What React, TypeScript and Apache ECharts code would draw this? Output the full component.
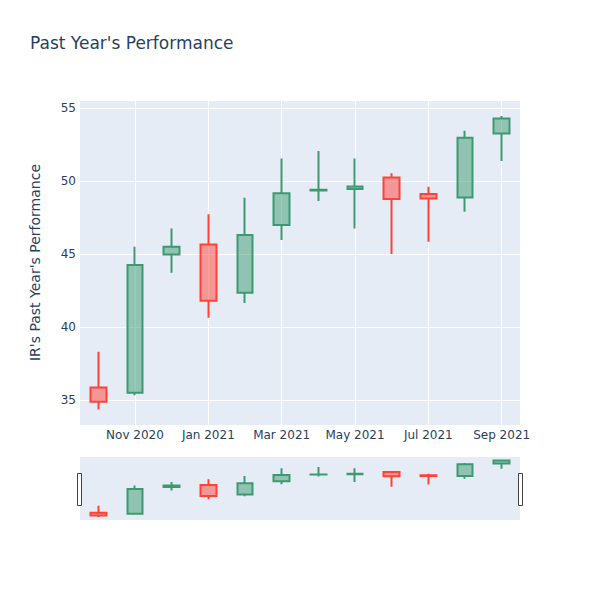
import React, { useEffect, useRef } from 'react';
import * as echarts from 'echarts';

const months = ['Oct 2020', 'Nov 2020', 'Dec 2020', 'Jan 2021', 'Feb 2021', 'Mar 2021', 'Apr 2021', 'May 2021', 'Jun 2021', 'Jul 2021', 'Aug 2021', 'Sep 2021'];
const opens = [35.87, 35.5, 44.97, 45.66, 42.35, 46.99, 49.35, 49.45, 50.25, 49.11, 48.88, 53.26];
const closes = [34.89, 44.25, 45.5, 41.8, 46.3, 49.16, 49.4, 49.62, 48.77, 48.81, 52.97, 54.29];
const lows = [34.36, 35.34, 43.72, 40.64, 41.66, 45.96, 48.63, 46.76, 45.0, 45.84, 47.9, 51.37];
const highs = [38.31, 45.5, 46.76, 47.72, 48.86, 51.55, 52.05, 51.55, 50.53, 49.61, 53.45, 54.45];
const yMin = 33.3;
const yMax = 55.55;

const TXT = '#2a3f5f';
const BG = '#E5ECF6';
const FONT = '"DejaVu Sans", verdana, arial, sans-serif';

const candleData = months.map((_, i) => [opens[i], closes[i], lows[i], highs[i]]);
// helper axis: 2 slots per month + 1, so month i sits at slot 2i+1
const slots = Array.from({ length: months.length * 2 + 1 }, (_, k) => 's' + k);

const candleStyle = {
  color: 'rgba(61,153,112,0.5)',
  color0: 'rgba(255,65,54,0.5)',
  borderColor: '#3D9970',
  borderColor0: '#FF4136',
  borderWidth: 2,
};

export default function App() {
  const ref = useRef<HTMLDivElement>(null);
  useEffect(() => {
    if (!ref.current) return;
    const chart = echarts.init(ref.current, null, { renderer: 'svg' });
    chart.setOption({
      animation: false,
      backgroundColor: '#fff',
      title: {
        text: "Past Year's Performance",
        left: 30,
        top: 34,
        padding: 0,
        textStyle: { color: TXT, fontSize: 17, fontWeight: 'normal', fontFamily: FONT },
      },
      grid: [
        { left: 80, top: 100, width: 440, height: 325, show: true, backgroundColor: BG, borderWidth: 0 },
        { left: 80, top: 457, width: 440, height: 63, show: true, backgroundColor: BG, borderWidth: 0 },
      ],
      xAxis: [
        {
          type: 'category',
          gridIndex: 0,
          data: months,
          boundaryGap: true,
          axisLine: { show: false },
          axisTick: { show: false },
          splitLine: { show: false },
          axisLabel: {
            interval: (idx: number) => idx % 2 === 1,
            color: TXT,
            fontSize: 12,
            fontFamily: FONT,
            margin: 4,
          },
        },
        {
          type: 'category',
          gridIndex: 0,
          data: slots,
          boundaryGap: false,
          position: 'bottom',
          axisLine: { show: false },
          axisTick: { show: false },
          axisLabel: { show: false },
          splitLine: {
            show: true,
            interval: (idx: number) => idx % 4 === 3,
            lineStyle: { color: '#fff', width: 1 },
          },
        },
        {
          type: 'category',
          gridIndex: 1,
          data: months,
          boundaryGap: true,
          show: false,
        },
      ],
      yAxis: [
        {
          type: 'value',
          gridIndex: 0,
          min: yMin,
          max: yMax,
          name: "IR's Past Year's Performance",
          nameLocation: 'middle',
          nameRotate: 90,
          nameGap: 38,
          nameTextStyle: { color: TXT, fontSize: 14, fontFamily: FONT },
          axisLine: { show: false },
          axisTick: { show: false },
          axisLabel: {
            color: TXT,
            fontSize: 12,
            fontFamily: FONT,
            margin: 4,
            showMinLabel: false,
            showMaxLabel: false,
          },
          splitLine: { show: true, lineStyle: { color: '#fff', width: 1 } },
        },
        {
          type: 'value',
          gridIndex: 1,
          min: yMin,
          max: yMax,
          show: false,
          splitLine: { show: false },
        },
      ],
      series: [
        {
          type: 'candlestick',
          xAxisIndex: 0,
          yAxisIndex: 0,
          data: candleData,
          barWidth: 16,
          itemStyle: candleStyle,
        },
        {
          type: 'candlestick',
          xAxisIndex: 2,
          yAxisIndex: 1,
          data: candleData,
          barWidth: 16,
          itemStyle: candleStyle,
        },
      ],
      graphic: [
        {
          type: 'rect',
          shape: { x: 77.5, y: 473.5, width: 4, height: 32 },
          style: { fill: '#fff', stroke: '#444', lineWidth: 1 },
          z: 10,
        },
        {
          type: 'rect',
          shape: { x: 518.5, y: 473.5, width: 4, height: 32 },
          style: { fill: '#fff', stroke: '#444', lineWidth: 1 },
          z: 10,
        },
      ],
    });
    return () => chart.dispose();
  }, []);
  return <div ref={ref} style={{ width: 600, height: 600, margin: -8 }} />;
}
